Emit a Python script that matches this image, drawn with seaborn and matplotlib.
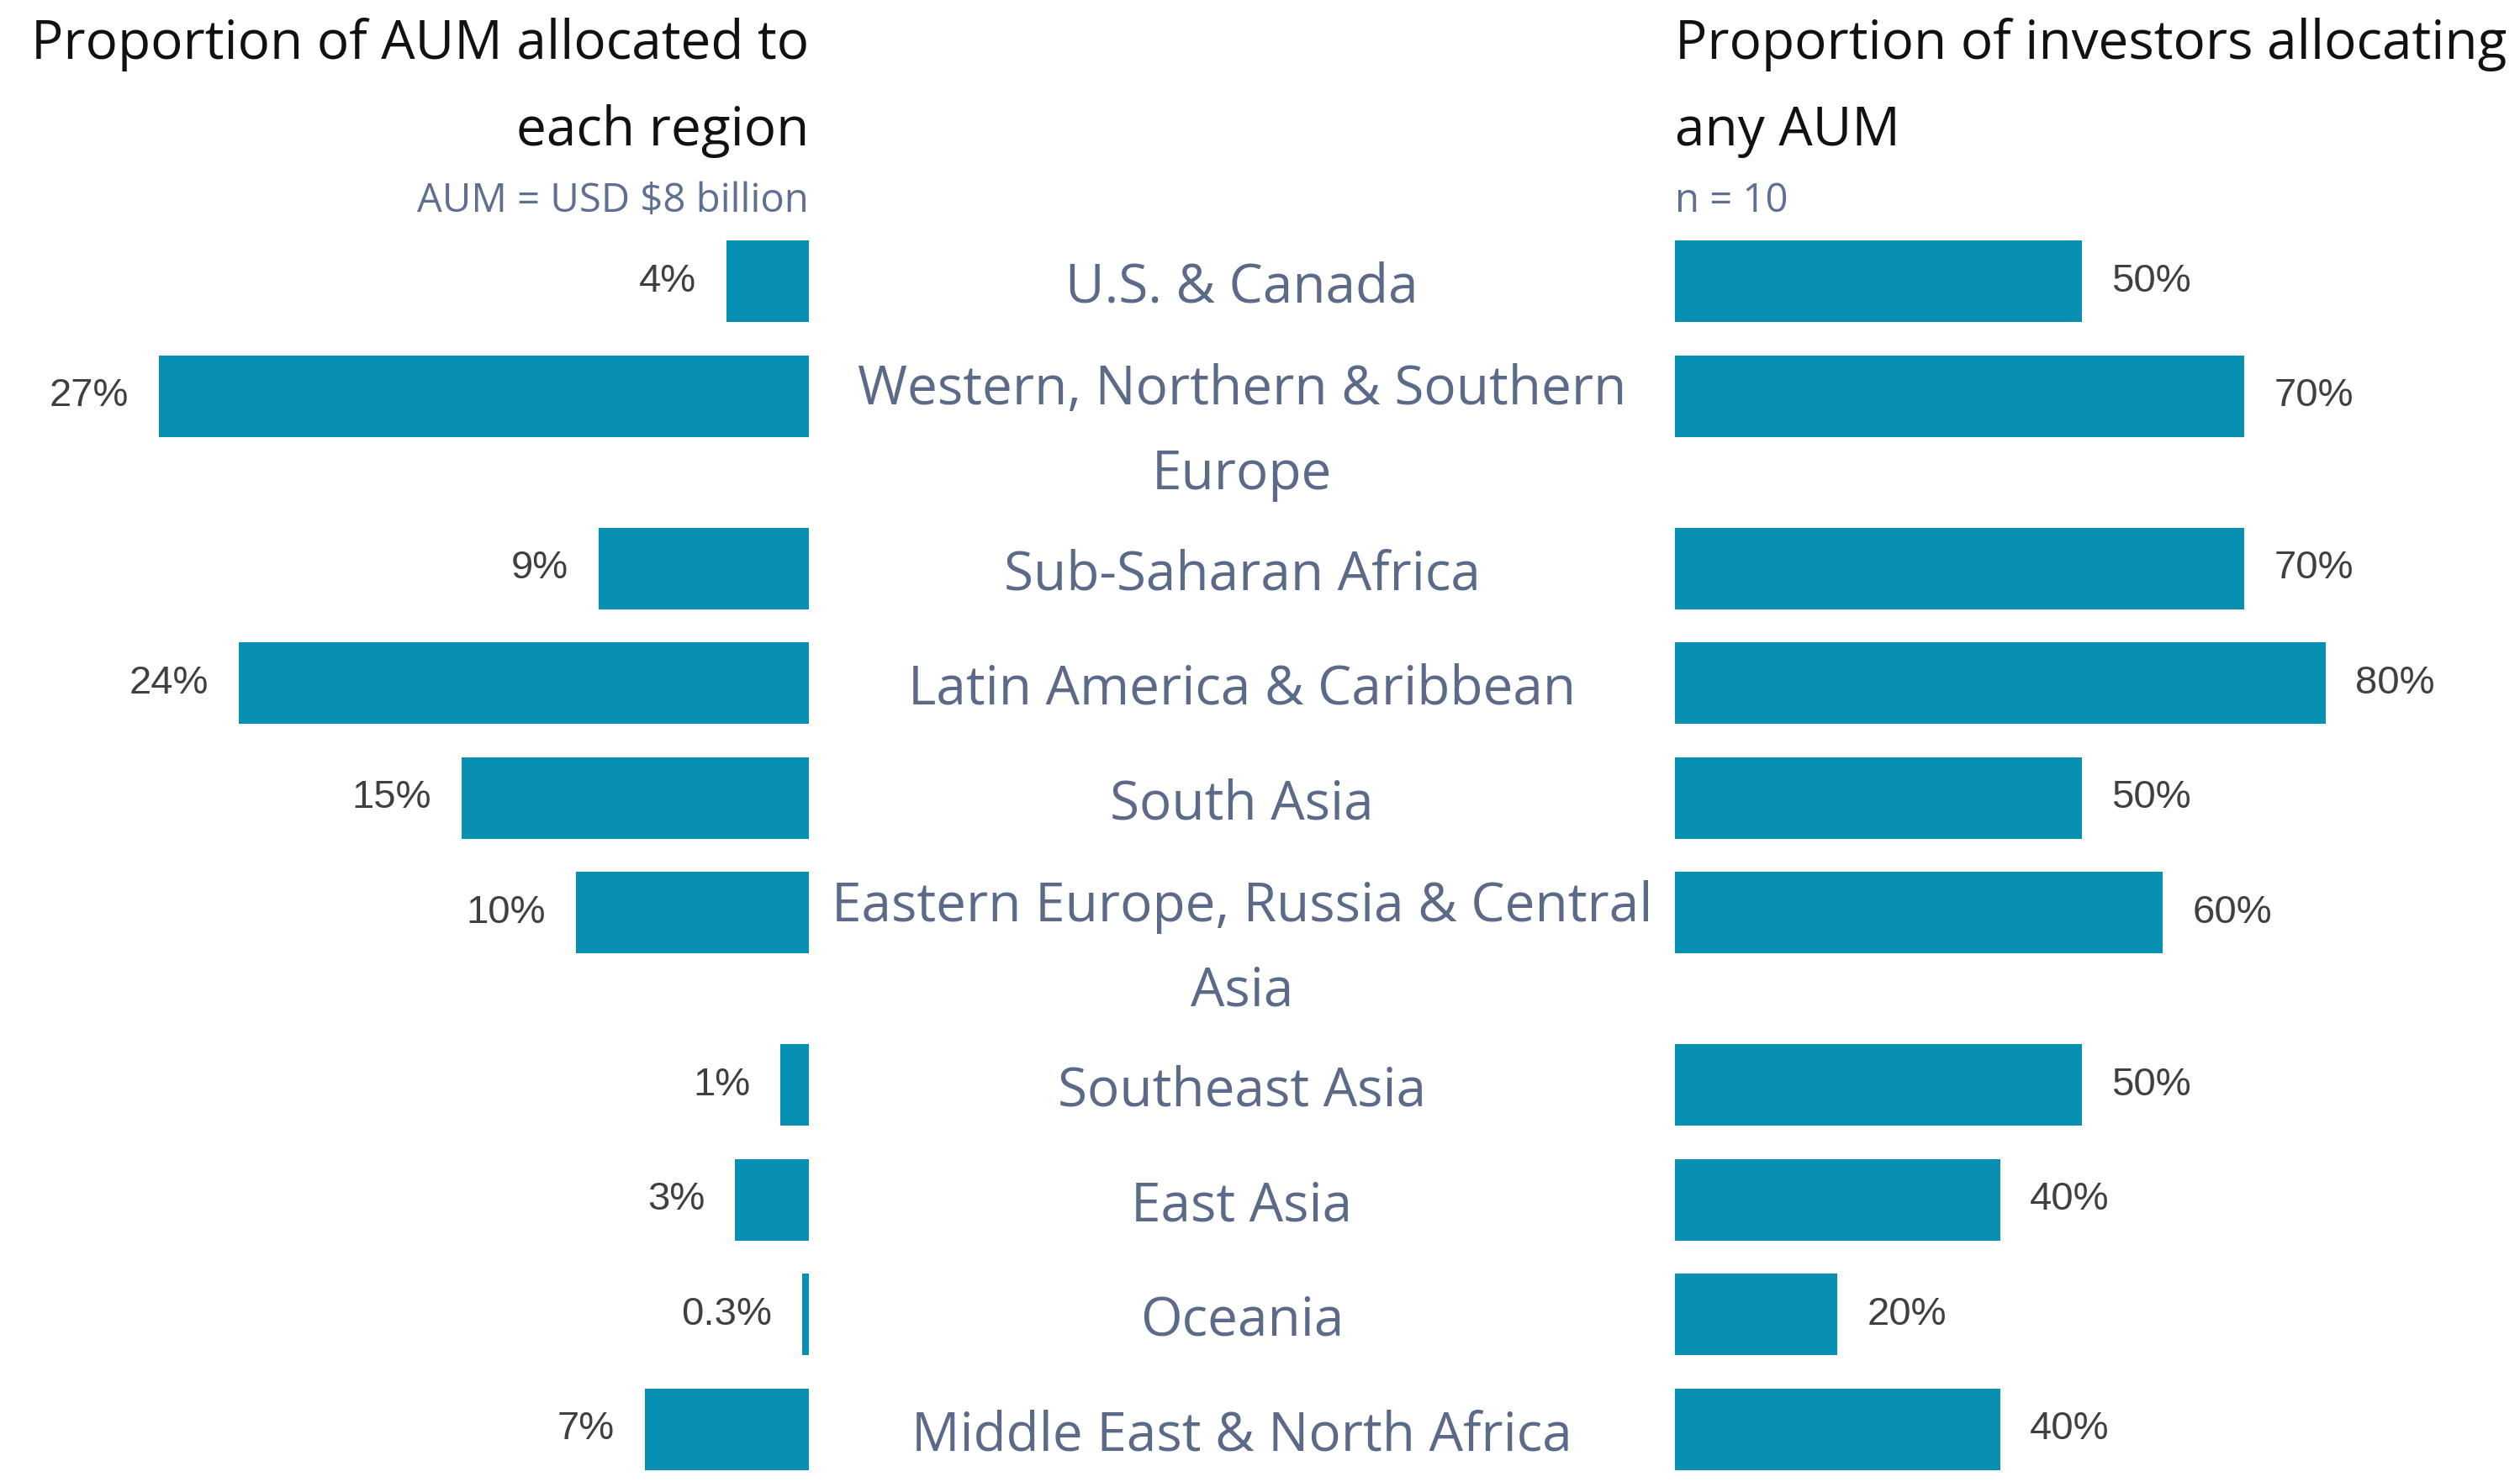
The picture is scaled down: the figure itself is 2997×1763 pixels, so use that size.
import pandas as pd
import seaborn as sns
import matplotlib.pyplot as plt

# data
regions = ["U.S. & Canada", "Western, Northern & Southern\nEurope", "Sub-Saharan Africa",
           "Latin America & Caribbean", "South Asia", "Eastern Europe, Russia & Central\nAsia",
           "Southeast Asia", "East Asia", "Oceania", "Middle East & North Africa"]
aum_share = [3.45, 27.3, 8.85, 23.95, 14.6, 9.8, 1.2, 3.1, 0.3, 6.9]
aum_labels = ["4%", "27%", "9%", "24%", "15%", "10%", "1%", "3%", "0.3%", "7%"]
investor_share = [50, 70, 70, 80, 50, 60, 50, 40, 20, 40]
investor_labels = ["50%", "70%", "70%", "80%", "50%", "60%", "50%", "40%", "20%", "40%"]

# rows with a wrapped label take 1.5 row heights
ypos = [0.0]
for r in regions[:-1]:
    ypos.append(ypos[-1] + (1.5 if "\n" in r else 1.0))

df = pd.DataFrame({"region": regions, "y": ypos, "aum": aum_share, "inv": investor_share})

BAR = "#0890b3"
SLATE = "#5b6a88"
NUM = "#404040"

sns.set_style("white")
plt.rcParams["font.family"] = ["Open Sans", "DejaVu Sans"]

W, H = 2997, 1763
fig = plt.figure(figsize=(W / 100, H / 100), dpi=100)

unit = 136.56      # pixels per row
y0 = 334.7         # pixel centre of first row
ylim = ((H - y0) / unit, -y0 / unit)
left_edge, right_edge = 962, 1992
left_scale, right_scale = 28.3, 9.674   # pixels per percent

axL = fig.add_axes([0, 0, left_edge / W, 1])
sns.barplot(data=df, x="aum", y="y", orient="y", native_scale=True, width=0.71,
            color=BAR, saturation=1, linewidth=0, ax=axL)
axL.set_xlim(left_edge / left_scale, 0)
axL.set_ylim(*ylim)
axL.axis("off")
for v, lab, y in zip(aum_share, aum_labels, ypos):
    axL.text(v + 36 / left_scale, y, lab, ha="right", va="center",
             fontsize=34, color=NUM, family=["Liberation Sans"])

axR = fig.add_axes([right_edge / W, 0, 1 - right_edge / W, 1])
sns.barplot(data=df, x="inv", y="y", orient="y", native_scale=True, width=0.71,
            color=BAR, saturation=1, linewidth=0, ax=axR)
axR.set_xlim(0, (W - right_edge) / right_scale)
axR.set_ylim(*ylim)
axR.axis("off")
for v, lab, y in zip(investor_share, investor_labels, ypos):
    axR.text(v + 35 / right_scale, y, lab, ha="left", va="center",
             fontsize=34, color=NUM, family=["Liberation Sans"])

axM = fig.add_axes([left_edge / W, 0, (right_edge - left_edge) / W, 1])
axM.set_xlim(0, 1)
axM.set_ylim(*ylim)
axM.axis("off")
for r, y in zip(regions, ypos):
    lines = r.split("\n")
    off = 0.183 if len(lines) == 1 else 0.073
    for i, line in enumerate(lines):
        axM.text(0.5, y + off + i * 0.74, line, ha="center", va="baseline",
                 fontsize=46, color=SLATE)

# headers
def fy(px):
    return 1 - px / H

fig.text(left_edge / W, fy(70), "Proportion of AUM allocated to", ha="right", va="baseline",
         fontsize=46, color="#111111")
fig.text(left_edge / W, fy(173), "each region", ha="right", va="baseline",
         fontsize=46, color="#111111")
fig.text(left_edge / W, fy(252), "AUM = USD $8 billion", ha="right", va="baseline",
         fontsize=34, color="#5e6f91")
fig.text(right_edge / W, fy(70), "Proportion of investors allocating", ha="left", va="baseline",
         fontsize=46, color="#111111")
fig.text(right_edge / W, fy(173), "any AUM", ha="left", va="baseline",
         fontsize=46, color="#111111")
fig.text(right_edge / W, fy(252), "n = 10", ha="left", va="baseline",
         fontsize=34, color="#5e6f91")

fig.savefig("out.png", dpi=100, facecolor="white")
